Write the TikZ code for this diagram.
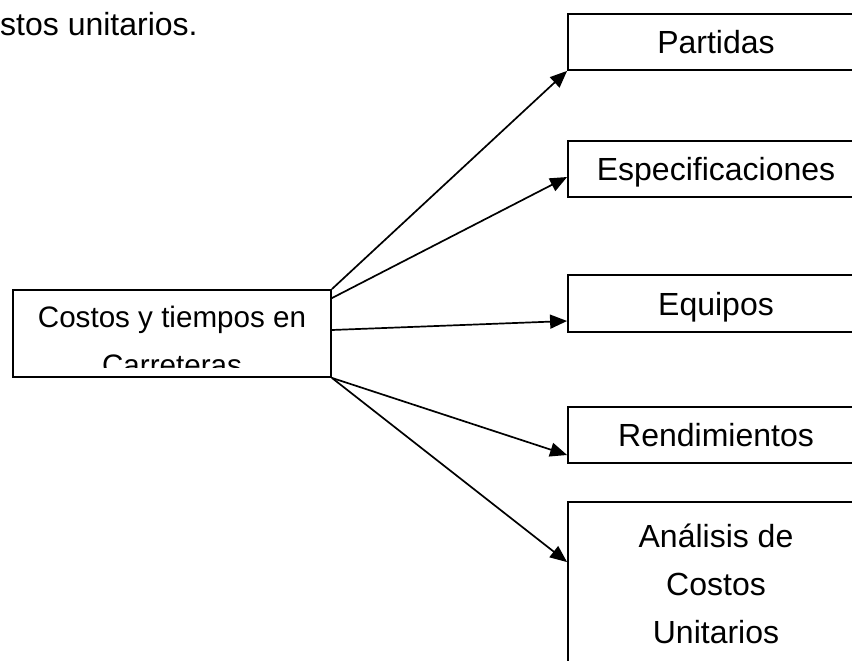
\documentclass[tikz,border=0pt]{standalone}
\usepackage{fontspec}
\setmainfont{Liberation Sans}
\usetikzlibrary{arrows.meta}
\begin{document}
\begin{tikzpicture}[x=1pt,y=-1pt,
  box/.style={draw,line width=1.8pt,inner sep=0pt,minimum width=296pt,minimum height=56pt,
    font=\fontsize{32}{48}\selectfont,text height=23pt,text depth=0pt},
  conn/.style={line width=1.7pt,-{Triangle[length=17pt,width=14pt]}},
  lbl/.style={inner sep=0pt,font=\fontsize{32}{48}\selectfont},
  lbls/.style={inner sep=0pt,font=\fontsize{29.6}{48}\selectfont}]
\useasboundingbox (0,0) rectangle (852,661);
\clip (0,0) rectangle (852,661);
\node[lbl,anchor=base west] (cap) at (0,36) {stos unitarios.};
% left box
\node[draw,line width=1.8pt,inner sep=0pt,minimum width=318pt,minimum height=87pt] (cost) at (172,333.5) {};
\begin{scope}
\clip (14,291) rectangle (330,367);
\node[lbls,anchor=base] (costa) at (172,327) {Costos y tiempos en};
\node[lbls,anchor=base] (costb) at (172,375) {Carreteras};
\end{scope}
% right boxes
\node[box] (part) at (716,42) {Partidas};
\node[box] (espec) at (716,169) {Especificaciones};
\node[box,minimum height=57pt] (equip) at (716,303.5) {Equipos};
\node[box] (rend) at (716,435) {Rendimientos};
\node[draw,line width=1.8pt,inner sep=0pt,minimum width=296pt,minimum height=180pt] (anal) at (716,592) {};
\node[lbl,anchor=base] (anala) at (716,547) {Análisis de};
\node[lbl,anchor=base] (analb) at (716,595) {Costos};
\node[lbl,anchor=base] (analc) at (716,643) {Unitarios};
% connectors
\draw[conn] (cost.north east) -- (part.south west);
\draw[conn] ([yshift=-9pt]cost.north east) -- ([yshift=-8pt]espec.west);
\draw[conn] ([yshift=3.5pt]cost.east) -- ([yshift=-17.5pt]equip.west);
\draw[conn] (cost.south east) -- ([yshift=-20pt]rend.west);
\draw[conn] (cost.south east) -- ([yshift=-61pt]anal.north west);
\end{tikzpicture}
\end{document}
